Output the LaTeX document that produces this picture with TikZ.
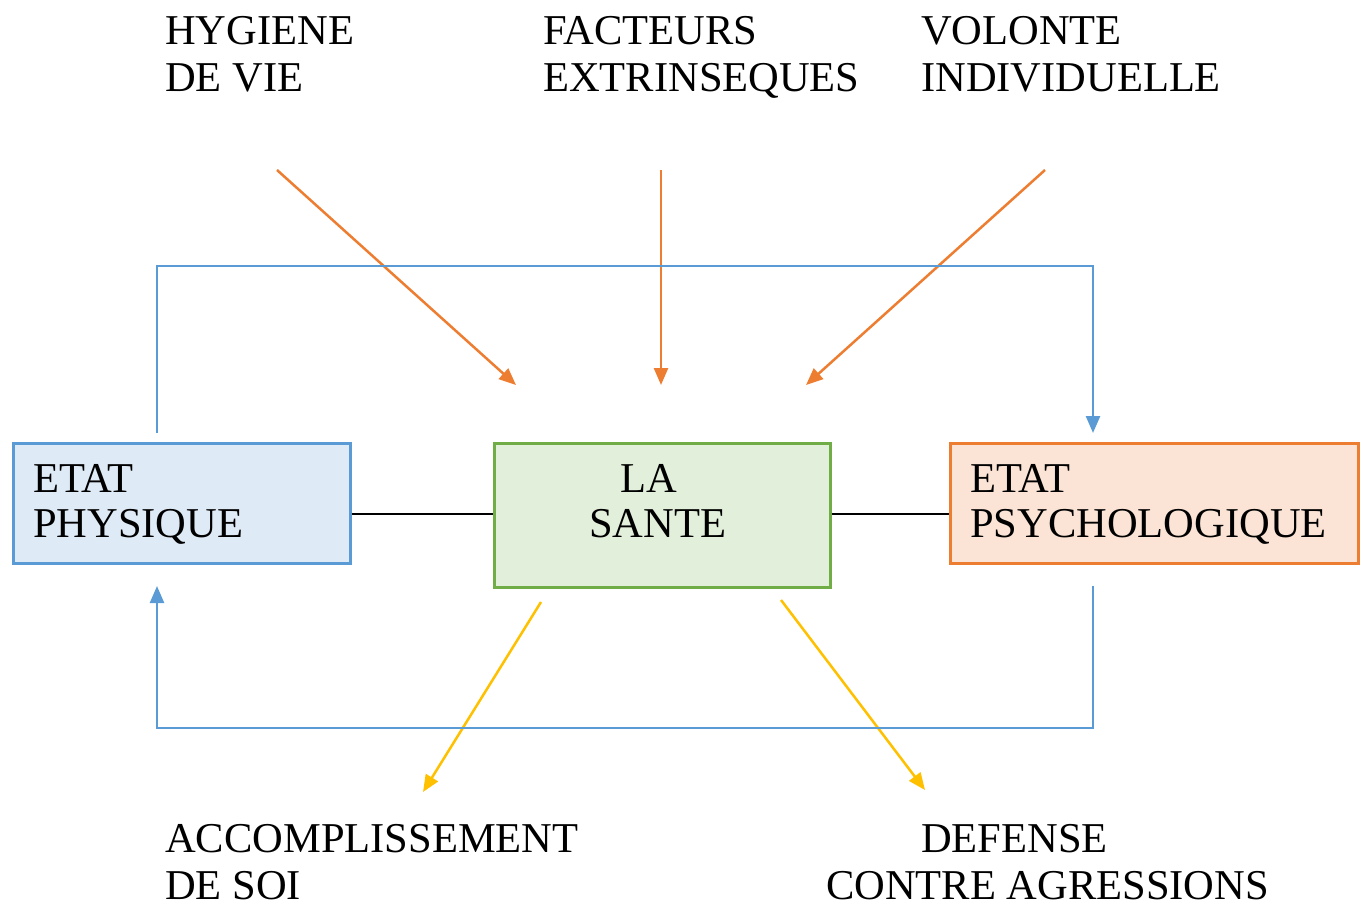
\documentclass[tikz,border=0pt]{standalone}
\usepackage{fontspec}
\setmainfont{Liberation Serif}
\usetikzlibrary{arrows.meta}
\definecolor{cblue}{HTML}{5B9BD5}
\definecolor{corange}{HTML}{ED7D31}
\definecolor{cgreen}{HTML}{70AD47}
\definecolor{cyellow}{HTML}{FFC000}
\definecolor{fblue}{HTML}{DEEAF6}
\definecolor{fgreen}{HTML}{E2EFDA}
\definecolor{forange}{HTML}{FBE4D5}
\tikzset{
  lbl/.style={anchor=base west, inner sep=0pt, align=left, font=\fontsize{42.5}{47}\selectfont},
  boxlbl/.style={anchor=base west, inner sep=0pt, align=left, font=\fontsize{42.5}{45}\selectfont},
  box/.style={draw, line width=2.5pt, inner sep=0pt, anchor=north west},
  tip/.style={-{Triangle[length=17pt,width=14pt]}},
  oarrow/.style={tip, draw=corange, line width=2.5pt},
  yarrow/.style={tip, draw=cyellow, line width=2.5pt},
  bline/.style={draw=cblue, line width=2.5pt},
  link/.style={draw=black, line width=2.5pt},
}
\begin{document}
\begin{tikzpicture}[x=1pt,y=-1pt]
\useasboundingbox (0,0) rectangle (1365,908);
% boxes
\node[box, draw=cblue, fill=fblue, minimum width=337pt, minimum height=120pt] (phys) at (12,442) {};
\node[box, draw=cgreen, fill=fgreen, minimum width=336pt, minimum height=144pt] (sante) at (493,442) {};
\node[box, draw=corange, fill=forange, minimum width=408pt, minimum height=120pt] (psy) at (949,442) {};
% box labels (anchored on last line baseline)
\node[boxlbl] (tphys) at (33,537) {ETAT\\PHYSIQUE};
\node[boxlbl] (tsante) at (589,537) {\hspace*{31pt}LA\\SANTE};
\node[boxlbl] (tpsy) at (970,537) {ETAT\\PSYCHOLOGIQUE};
% top labels
\node[lbl] (hyg) at (165,91) {HYGIENE\\DE VIE};
\node[lbl] (fac) at (543,91) {FACTEURS\\EXTRINSEQUES};
\node[lbl] (vol) at (921,91) {VOLONTE\\INDIVIDUELLE};
% bottom labels
\node[lbl] (acc) at (165,899) {ACCOMPLISSEMENT\\DE SOI};
\node[lbl] (def) at (826,899) {\hspace*{95pt}DEFENSE\\CONTRE AGRESSIONS};
% coordinates
\coordinate (h0) at (277,170); \coordinate (h1) at (516,385);
\coordinate (f0) at (661,170); \coordinate (f1) at (661,385);
\coordinate (v0) at (1045,170); \coordinate (v1) at (806,385);
\coordinate (a0) at (541,602); \coordinate (a1) at (423,792);
\coordinate (d0) at (781,600); \coordinate (d1) at (925,790);
\coordinate (bt0) at (157,433); \coordinate (bt1) at (1093,433);
\coordinate (bb0) at (1093,586); \coordinate (bb1) at (157,586);
\coordinate (ly) at (0,514);
% orange arrows
\draw[oarrow] (h0) -- (h1);
\draw[oarrow] (f0) -- (f1);
\draw[oarrow] (v0) -- (v1);
% yellow arrows
\draw[yarrow] (a0) -- (a1);
\draw[yarrow] (d0) -- (d1);
% links
\draw[link] (phys.east |- ly) -- (sante.west |- ly);
\draw[link] (sante.east |- ly) -- (psy.west |- ly);
% blue loop
\draw[bline, tip] (bt0) -- (157,266) -- (1093,266) -- (bt1);
\draw[bline, tip] (bb0) -- (1093,728) -- (157,728) -- (bb1);
\end{tikzpicture}
\end{document}
